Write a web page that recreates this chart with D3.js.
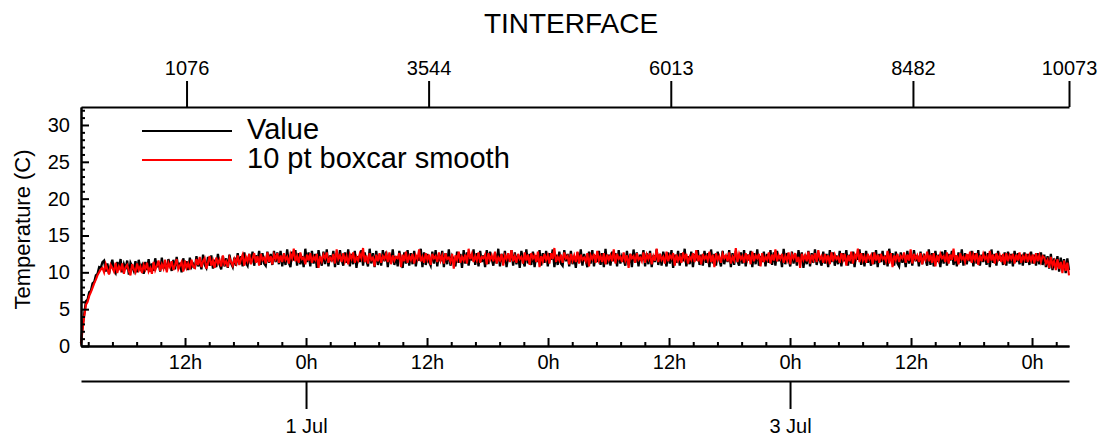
<!DOCTYPE html>
<html>
<head>
<meta charset="utf-8">
<script src="https://cdn.jsdelivr.net/npm/d3@7"></script>
<style>
  html, body { margin: 0; padding: 0; background: #fff; }
  svg { display: block; }
  text { font-family: "Liberation Sans", Arial, Helvetica, sans-serif; fill: #000; }
</style>
</head>
<body>
<svg id="chart" width="1111" height="441"></svg>
<script>
// ---------------- DATA ----------------
const chartTitle = "TINTERFACE";
const yLabel = "Temperature (C)";
const seriesNames = ["Value", "10 pt boxcar smooth"];
const startTime = "2023-06-30T01:41:00Z";
const endTime = "2023-07-04T03:40:00Z";
const lastSampleIndex = 10073;
const indexTickLabels = [1076, 3544, 6013, 8482, 10073];
const dateTickLabels = ["2023-07-01T00:00:00Z", "2023-07-03T00:00:00Z"];
const yTickLabels = [0, 5, 10, 15, 20, 25, 30];

// Raw values (evenly spaced over samples 0..10073)
const valueSeries = [
  0.4, 2.8, 4.4, 6.1, 6.3, 7.3, 7.5, 8.5, 8.7, 9.6, 9.8, 10.7, 10.6, 11.4,
  11.6, 10.1, 11.2, 9.8, 10.9, 11.7, 10.3, 9.9, 11.4, 10.6, 11.8, 10.0, 11.1, 10.4, 11.6, 9.7, 11.3, 10.8, 10.2, 11.5,
  10.0, 11.7, 10.5, 11.0, 9.8, 11.4, 10.3, 11.8, 10.1, 11.2,
  10.2, 11.9, 10.7, 11.4, 10.1, 12.0, 10.5, 11.2, 10.3, 11.8, 10.9, 10.2, 11.7, 10.4, 12.1, 10.6, 11.3, 10.0, 11.9, 10.8, 11.5, 10.3, 12.0, 10.7, 11.1,
  10.5, 12.2, 10.8, 11.6, 10.4, 12.4, 11.0, 10.6, 12.1, 10.9, 12.3, 10.5, 11.7, 10.7, 12.5, 11.1, 10.4, 12.2, 10.8, 11.9, 10.6, 12.4, 11.2, 10.7, 12.0,
  10.9, 12.6, 11.1, 12.2, 10.8, 12.7, 11.3, 10.9, 12.5, 11.2, 12.8, 10.9, 12.3, 11.4, 12.9, 11.0, 12.6, 11.2, 10.9, 12.8, 11.3, 12.5, 11.0, 12.9, 11.4, 12.7, 11.1,
  12.9, 10.8, 12.4, 11.0, 13.1, 11.3, 10.7, 12.8, 11.6, 13.0, 10.9, 12.6, 11.1, 12.2, 10.7, 13.2, 11.4, 12.7, 10.8, 12.9,
  11.2, 12.5, 10.6, 13.0, 11.8, 10.9, 12.8, 11.1, 13.1, 10.8, 12.3, 11.5, 12.9, 10.7, 12.6, 11.0, 13.0, 11.7, 10.9, 12.7,
  11.3, 13.1, 10.8, 12.5, 11.1, 12.9, 10.6, 12.2, 11.4, 13.0, 10.9, 12.7, 11.6, 10.8, 13.2, 11.2, 12.6, 10.7, 12.9, 11.0,
  12.4, 10.9, 13.0, 11.5, 12.8, 10.7, 12.5, 11.3, 13.1, 11.0, 12.2, 10.8, 12.9, 11.7, 10.6, 12.7, 11.2, 13.0, 10.9, 12.6,
  11.1, 12.9, 10.8, 12.3, 11.6, 13.2, 10.7, 12.7, 11.0, 12.5, 11.4, 10.9, 12.8, 11.2, 13.0, 10.8, 12.4, 11.5, 12.9, 10.7,
  12.6, 11.1, 13.1, 10.9, 12.2, 11.7, 10.8, 12.8, 11.3, 12.5, 10.6, 13.0, 11.2, 12.7, 10.9, 12.4, 11.6, 13.1, 11.0, 12.6,
  10.8, 12.9, 11.4, 12.3, 10.7, 13.0, 11.1, 12.8, 11.8, 10.9, 12.6, 11.2, 13.2, 10.8, 12.5, 11.3, 12.9, 10.7, 12.2, 11.5,
  13.0, 10.9, 12.7, 11.1, 12.4, 10.6, 12.9, 11.6, 10.8, 13.1, 11.2, 12.5, 11.0, 12.8, 10.7, 12.3, 11.4, 13.0, 10.9, 12.6,
  11.3, 12.9, 10.8, 12.6, 11.7, 13.1, 10.7, 12.4, 11.0, 12.8, 11.2, 10.9, 13.0, 11.5, 12.5, 10.8, 12.9, 11.1, 12.2, 10.6,
  12.7, 11.3, 13.1, 10.9, 12.5, 11.6, 10.7, 12.8, 11.2, 13.0, 10.8, 12.3, 11.4, 12.9, 11.0, 12.6, 10.7, 13.2, 11.1, 12.4,
  10.9, 12.8, 11.5, 12.6, 10.8, 13.0, 11.2, 12.2, 11.7, 10.9, 12.9, 11.0, 12.5, 10.7, 13.1, 11.3, 12.7, 10.8, 12.4, 11.6,
  13.0, 10.8, 12.6, 11.1, 12.9, 10.7, 12.3, 11.4, 13.1, 11.0, 12.5, 10.9, 12.8, 11.8, 10.8, 12.7, 11.2, 13.0, 10.6, 12.4,
  11.3, 12.9, 10.9, 12.6, 11.5, 13.2, 10.8, 12.2, 11.1, 12.8, 10.7, 12.5, 11.6, 13.0, 11.0, 12.4, 10.9, 12.9, 11.3, 12.6,
  10.7, 13.1, 11.2, 12.5, 10.9, 12.8, 11.7, 10.8, 12.9, 11.1, 12.3, 11.4, 13.0, 10.7, 12.6, 11.0, 12.9, 11.5, 10.9, 12.7,
  11.2, 13.0, 10.8, 12.4, 11.6, 12.9, 10.7, 12.6, 11.1, 13.1, 10.9, 12.2, 11.4, 12.8, 10.8, 12.5, 11.3, 13.0, 11.0, 12.7,
  10.9, 12.9, 11.5, 12.3, 10.7, 13.2, 11.1, 12.6, 11.8, 10.8, 12.8, 11.2, 12.5, 10.9, 13.0, 11.4, 12.7, 10.6, 12.4, 11.1,
  12.9, 10.8, 12.6, 11.3, 13.1, 11.0, 12.2, 11.6, 10.9, 12.8, 11.2, 12.5, 10.7, 13.0, 11.4, 12.7, 10.9, 12.3, 11.1, 12.9,
  10.8, 12.6, 11.5, 13.0, 10.9, 12.4, 11.2, 12.8, 10.7, 12.5, 11.7, 13.1, 11.0, 12.6, 10.8, 12.9, 11.3, 12.2, 10.9, 12.7,
  11.1, 13.0, 10.7, 12.5, 11.4, 12.9, 11.0, 12.3, 10.8, 13.2, 11.6, 12.6, 10.9, 12.8, 11.2, 10.8, 12.7, 11.3, 12.4, 10.7,
  12.9, 11.2, 12.6, 10.9, 13.0, 11.5, 12.3, 10.8, 12.8, 11.1, 12.5, 11.7, 10.9, 13.1, 11.0, 12.6, 10.8, 12.9, 11.4, 12.4,
  10.7, 12.8, 11.2, 13.0, 10.9, 12.5, 11.6, 12.9, 11.0, 12.3, 10.8, 12.7, 11.3, 13.1, 10.9, 12.6, 11.1, 12.4, 11.5, 12.9,
  10.8, 12.6, 11.2, 13.0, 10.9, 12.4, 11.4, 12.8, 11.0, 12.6, 10.7, 13.1, 11.3, 12.5, 10.9, 12.9, 11.6, 12.3, 11.0, 12.7,
  10.9, 12.8, 11.2, 12.5, 10.8, 12.9, 11.4, 12.6, 11.1, 12.4, 10.9, 12.7, 11.3, 12.5, 11.0, 12.8, 11.2, 12.4, 10.9, 12.6,
  11.1, 12.7, 11.0,
  12.4, 10.7, 12.2, 10.5, 12.5, 10.3, 11.9, 10.6, 12.2, 10.1, 12.0, 10.4, 11.8, 9.9, 11.9, 10.3
];

// 10 pt boxcar smoothed values (same sampling)
const smoothSeries = [
  0.2, 2.3, 4.1, 5.6, 6.0, 6.8, 7.3, 7.9, 8.5, 9.0, 9.6, 10.0, 10.4, 10.6,
  10.0, 11.1, 10.4, 9.7, 11.0, 10.6, 10.1, 11.3, 9.9, 10.8, 10.3, 11.2, 9.8, 10.7, 11.0, 10.2, 9.6, 11.1, 10.5, 10.0,
  11.2, 10.3, 10.8, 9.9, 11.0, 10.4, 11.3, 10.1, 10.6, 9.8,
  11.4, 10.3, 10.9, 11.6, 10.2, 11.1, 10.5, 11.7, 10.0, 11.3, 10.7, 11.5, 10.3, 11.0, 11.8, 10.4, 10.9, 11.4, 10.1, 11.6, 10.6, 11.2, 10.4, 11.7, 10.8,
  10.6, 11.8, 11.0, 12.1, 10.7, 11.5, 11.9, 10.5, 11.3, 12.2, 10.9, 11.6, 10.6, 12.0, 11.2, 11.7, 10.8, 12.3, 11.1, 11.5, 10.7, 12.0, 11.4, 10.9, 11.8,
  11.2, 12.3, 11.0, 11.8, 12.4, 10.9, 12.1, 11.5, 12.5, 11.1, 11.9, 12.6, 11.3, 12.2, 10.9, 12.5, 11.7, 12.0, 11.2, 12.7, 11.4, 12.2, 11.1, 12.4, 11.8, 12.6, 11.3,
  12.3, 11.4, 12.6, 11.7, 12.1, 11.2, 12.5, 11.9, 13.2, 11.5, 12.2, 11.3, 12.7, 11.8, 12.0, 11.1, 12.4, 11.6, 12.6, 11.3,
  12.1, 11.7, 12.5, 10.6, 12.2, 11.5, 12.4, 11.9, 12.7, 11.3, 12.0, 11.6, 12.5, 11.2, 13.1, 11.8, 12.3, 11.4, 12.6, 11.5,
  12.2, 11.1, 12.4, 11.8, 12.7, 11.3, 12.1, 11.6, 12.5, 11.9, 13.3, 11.4, 12.3, 11.2, 12.6, 11.7, 12.0, 10.8, 12.4, 11.5,
  12.6, 11.3, 12.2, 11.8, 12.5, 11.4, 12.7, 11.1, 12.3, 11.6, 12.1, 11.9, 12.6, 10.7, 12.4, 11.5, 12.8, 11.3, 12.2, 11.7,
  12.5, 11.2, 12.3, 11.8, 13.1, 11.5, 12.1, 11.3, 12.6, 11.7, 12.4, 11.0, 12.5, 11.9, 12.2, 11.4, 12.7, 11.6, 12.3, 11.2,
  12.6, 11.8, 12.0, 11.4, 12.5, 10.5, 12.3, 11.7, 12.8, 11.3, 12.1, 11.6, 12.4, 11.2, 13.2, 11.8, 12.5, 11.4, 12.2, 11.6,
  12.7, 11.3, 12.1, 11.9, 12.4, 11.1, 12.6, 11.7, 12.3, 11.5, 12.8, 11.2, 12.0, 11.6, 12.5, 10.9, 12.3, 11.8, 12.6, 11.4,
  13.0, 11.5, 12.2, 11.3, 12.5, 11.8, 12.1, 11.2, 12.7, 11.6, 12.4, 11.0, 12.6, 11.9, 12.3, 11.4, 12.8, 10.7, 12.2, 11.5,
  12.5, 11.7, 12.3, 11.2, 12.6, 11.8, 13.3, 11.4, 12.1, 11.6, 12.4, 11.3, 12.7, 11.9, 12.2, 11.1, 12.5, 11.6, 12.3, 11.4,
  12.8, 11.2, 12.4, 11.7, 12.0, 11.5, 12.6, 10.8, 12.3, 11.8, 12.5, 11.3, 12.9, 11.6, 12.2, 11.4, 12.6, 11.1, 12.4, 11.7,
  12.3, 11.5, 13.1, 11.2, 12.5, 11.8, 12.1, 11.4, 12.7, 11.6, 12.3, 10.6, 12.5, 11.9, 12.2, 11.3, 12.6, 11.7, 12.0, 11.5,
  12.7, 11.3, 12.4, 11.8, 12.6, 11.1, 12.2, 11.6, 13.2, 11.4, 12.5, 11.7, 12.1, 11.2, 12.8, 11.5, 12.3, 11.9, 12.6, 10.9,
  12.4, 11.6, 12.2, 11.3, 12.7, 11.8, 12.5, 11.2, 12.1, 11.7, 12.6, 11.4, 13.0, 11.5, 12.3, 11.1, 12.5, 11.8, 12.2, 11.6,
  12.8, 11.4, 12.4, 10.7, 12.6, 11.7, 12.2, 11.3, 12.5, 11.9, 12.3, 11.5, 12.7, 11.2, 12.1, 11.6, 13.3, 11.4, 12.5, 11.8,
  12.2, 11.3, 12.6, 11.7, 12.4, 11.1, 12.8, 11.5, 12.3, 11.9, 12.5, 10.8, 12.6, 11.4, 12.1, 11.7, 12.7, 11.2, 12.4, 11.6,
  13.1, 11.5, 12.3, 11.8, 12.5, 11.3, 12.2, 11.6, 12.7, 11.1, 12.4, 11.9, 12.6, 11.4, 12.1, 10.6, 12.5, 11.7, 12.3, 11.5,
  12.8, 11.2, 12.4, 11.7, 12.6, 11.4, 13.0, 11.8, 12.2, 11.3, 12.5, 11.6, 12.3, 11.1, 12.7, 11.5, 12.4, 11.8, 12.1, 11.3,
  12.6, 11.7, 12.5, 10.9, 12.3, 11.5, 12.8, 11.2, 12.4, 11.9, 13.2, 11.4, 12.6, 11.6, 12.2, 11.3, 12.5, 11.8, 12.3, 11.1,
  12.7, 11.6, 12.4, 11.3, 12.5, 11.8, 12.1, 11.5, 12.9, 11.2, 12.6, 10.7, 12.3, 11.7, 12.5, 11.4, 12.2, 11.9, 12.7, 11.3,
  12.4, 11.6, 13.1, 11.2, 12.5, 11.8, 12.3, 11.4, 12.6, 11.1, 12.2, 11.7, 12.8, 11.5, 12.4, 11.3, 12.6, 10.8, 12.3, 11.6,
  12.5, 11.9, 12.2, 11.4, 12.7, 11.2, 12.4, 11.7, 13.2, 11.5, 12.3, 11.1, 12.6, 11.8, 12.1, 11.4, 12.5, 11.6, 12.8, 11.3,
  12.4, 11.7, 12.6, 11.0, 12.3, 11.5, 12.5, 11.8, 12.2, 11.3, 12.9, 11.6, 12.4, 11.2, 12.6, 11.7, 12.3, 11.4, 12.5, 11.1,
  12.6, 11.5, 12.3, 11.8, 12.5, 11.2, 12.4, 11.6, 12.7, 11.3, 12.2, 11.7, 12.5, 11.4, 12.3, 11.6, 12.4, 11.2, 12.6, 11.5,
  12.3, 11.4, 12.2,
  12.0, 11.2, 11.7, 10.6, 12.1, 10.9, 11.5, 10.3, 11.8, 10.5, 11.4, 9.9, 11.6, 10.2, 11.3, 9.6
];

// ---------------- LAYOUT ----------------
const L = 81, R = 1069, T = 107, B = 346, DATE_AXIS_Y = 381;
const font = "Liberation Sans, Arial, Helvetica, sans-serif";
const svg = d3.select("#chart");

const t0 = new Date(startTime), t1 = new Date(endTime);
const xTime = d3.scaleUtc().domain([t0, t1]).range([L, R]);
const xIndex = d3.scaleLinear().domain([0, lastSampleIndex]).range([L, R]);
const y = d3.scaleLinear().domain([0, 32.44]).range([B, T]);

// ---------------- LINES ----------------
function lineFor(arr) {
  const n = arr.length;
  return d3.line()
    .x((d, i) => xIndex(i * lastSampleIndex / (n - 1)))
    .y(d => y(d))(arr);
}
svg.append("path").attr("d", lineFor(valueSeries))
  .attr("fill", "none").attr("stroke", "#000").attr("stroke-width", 2.3)
  .attr("stroke-linejoin", "miter");
svg.append("path").attr("d", lineFor(smoothSeries))
  .attr("fill", "none").attr("stroke", "#ff0000").attr("stroke-width", 2.1)
  .attr("stroke-linejoin", "miter");

// ---------------- AXES ----------------
function styleAxis(g, fs) {
  g.selectAll(".domain").attr("stroke", "#000").attr("stroke-width", 2);
  g.selectAll(".tick line").attr("stroke", "#000").attr("stroke-width", 2);
  g.selectAll(".tick text").attr("font-family", font).attr("font-size", fs).attr("fill", "#000");
}

// Left axis: major every 5, minor every 1
const yMinor = d3.range(0, 33, 1).filter(v => v % 5 !== 0);
const gLeftMinor = svg.append("g").attr("transform", `translate(${L},0)`)
  .call(d3.axisLeft(y).tickValues(yMinor).tickSize(-4).tickSizeOuter(0).tickFormat(""));
styleAxis(gLeftMinor, 20);
const gLeft = svg.append("g").attr("transform", `translate(${L},0)`)
  .call(d3.axisLeft(y).tickValues(yTickLabels).tickSize(-8).tickSizeOuter(0).tickPadding(11));
styleAxis(gLeft, 20);

// Top axis: sample index
const gTop = svg.append("g").attr("transform", `translate(0,${T})`)
  .call(d3.axisTop(xIndex).tickValues(indexTickLabels).tickSize(26).tickSizeOuter(0)
    .tickPadding(6).tickFormat(d3.format("d")));
styleAxis(gTop, 20);

// Bottom axis: hours
const majorTimes = d3.utcHour.every(12).range(t0, t1);
const minorTimes = [];
{
  const base = d3.utcDay.floor(t0);
  for (let k = 0; ; k++) {
    const t = new Date(base.getTime() + k * 144 * 60000);
    if (t > t1) break;
    if (t >= t0 && (k % 5) !== 0) minorTimes.push(t);
  }
}
const gBotMinor = svg.append("g").attr("transform", `translate(0,${B})`)
  .call(d3.axisBottom(xTime).tickValues(minorTimes).tickSize(-4).tickSizeOuter(0).tickFormat(""));
styleAxis(gBotMinor, 20);
const gBot = svg.append("g").attr("transform", `translate(0,${B})`)
  .call(d3.axisBottom(xTime).tickValues(majorTimes).tickSize(-8).tickSizeOuter(0).tickPadding(9)
    .tickFormat(d => d.getUTCHours() + "h"));
styleAxis(gBot, 20);

// Date axis
const gDate = svg.append("g").attr("transform", `translate(0,${DATE_AXIS_Y})`)
  .call(d3.axisBottom(xTime).tickValues(dateTickLabels.map(s => new Date(s)))
    .tickSize(28).tickSizeOuter(0).tickPadding(10).tickFormat(d3.utcFormat("%-d %b")));
styleAxis(gDate, 20);

// ---------------- TEXT ----------------
svg.append("text").attr("x", 571).attr("y", 33)
  .attr("text-anchor", "middle").attr("font-size", 28).text(chartTitle);

svg.append("text")
  .attr("transform", `translate(30,${(T + B) / 2 + 3}) rotate(-90)`)
  .attr("text-anchor", "middle").attr("font-size", 22).text(yLabel);

// Legend
const legendColors = ["#000", "#ff0000"];
const legendY = [131, 160];
seriesNames.forEach((name, i) => {
  svg.append("line").attr("x1", 142).attr("x2", 232)
    .attr("y1", legendY[i]).attr("y2", legendY[i])
    .attr("stroke", legendColors[i]).attr("stroke-width", 2);
  svg.append("text").attr("x", 247).attr("y", legendY[i] + 8)
    .attr("font-size", 29).text(name);
});
</script>
</body>
</html>
